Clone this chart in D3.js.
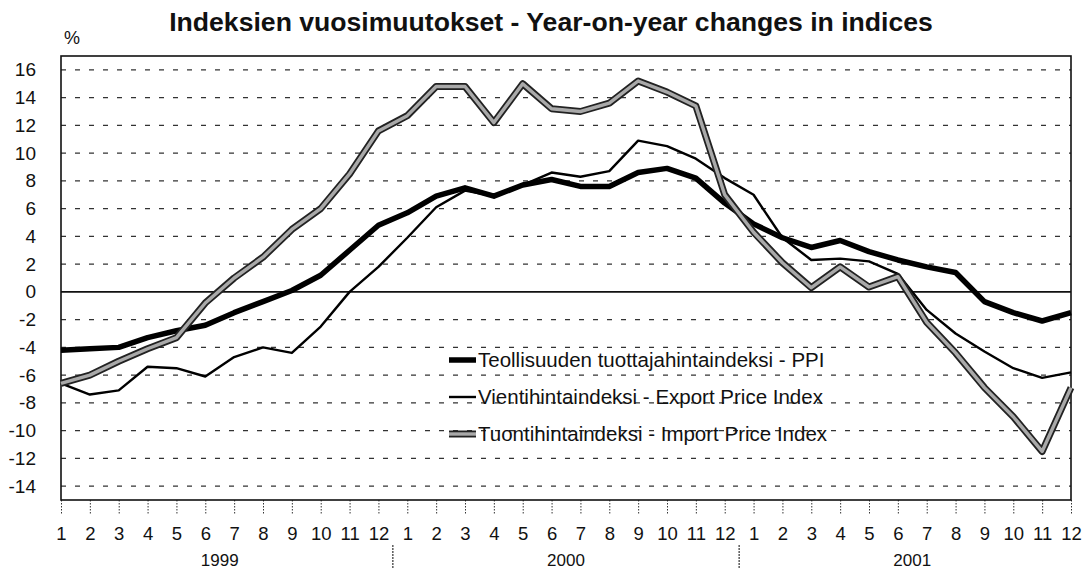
<!DOCTYPE html>
<html>
<head>
<meta charset="utf-8">
<script src="https://d3js.org/d3.v7.min.js"></script>
<title>Indeksien vuosimuutokset</title>
<style>
  body { margin: 0; background: #fff; }
  svg { display: block; font-family: "Liberation Sans", Arial, sans-serif; }
  .grid { stroke: #333; stroke-width: 1.1; stroke-dasharray: 5 9; }
  .tick line { stroke: #333; stroke-dasharray: 1.5 1.5; }
</style>
</head>
<body>
<div id="chart"></div>

<script>
// ---- data ----
var years = ["1999", "2000", "2001"];
var monthLabels = ["1","2","3","4","5","6","7","8","9","10","11","12"];
var yTicks = [-14, -12, -10, -8, -6, -4, -2, 0, 2, 4, 6, 8, 10, 12, 14, 16];

var seriesNames = [
  "Teollisuuden tuottajahintaindeksi - PPI",
  "Vientihintaindeksi - Export Price Index",
  "Tuontihintaindeksi - Import Price Index"
];

var ppi = [-4.2, -4.1, -4.0, -3.3, -2.8, -2.4, -1.5, -0.7, 0.1, 1.2, 3.0, 4.8,
           5.7, 6.9, 7.5, 6.9, 7.7, 8.1, 7.6, 7.6, 8.6, 8.9, 8.2, 6.4,
           4.9, 3.9, 3.2, 3.7, 2.9, 2.3, 1.8, 1.4, -0.7, -1.5, -2.1, -1.5];

var exportIdx = [-6.6, -7.4, -7.1, -5.4, -5.5, -6.1, -4.7, -4.0, -4.4, -2.5, 0.0, 1.8,
                 3.9, 6.1, 7.3, 6.9, 7.7, 8.6, 8.3, 8.7, 10.9, 10.5, 9.6, 8.2,
                 7.0, 3.9, 2.3, 2.4, 2.2, 1.3, -1.3, -3.0, -4.3, -5.5, -6.2, -5.8];

var importIdx = [-6.6, -6.0, -5.0, -4.1, -3.3, -0.8, 1.0, 2.5, 4.5, 6.0, 8.5, 11.6,
                 12.7, 14.8, 14.8, 12.2, 15.0, 13.2, 13.0, 13.6, 15.2, 14.4, 13.4, 7.0,
                 4.3, 2.1, 0.3, 1.8, 0.35, 1.1, -2.2, -4.4, -6.9, -9.0, -11.5, -6.9];

// ---- layout ----
var W = 1083, H = 569;
var plotL = 61, plotR = 1071, plotT = 56, plotB = 500;

var periods = [];
years.forEach(function(yr) {
  monthLabels.forEach(function(m) { periods.push(yr + "-" + m); });
});

var x = d3.scalePoint().domain(periods).range([plotL, plotR]);
var y = d3.scaleLinear().domain([-15, 17]).range([plotB, plotT]);

var svg = d3.select("#chart").append("svg")
  .attr("width", W)
  .attr("height", H);

// title
svg.append("text")
  .attr("x", 551)
  .attr("y", 31)
  .attr("text-anchor", "middle")
  .attr("font-size", 26.6)
  .attr("font-weight", "bold")
  .attr("fill", "#111")
  .text("Indeksien vuosimuutokset - Year-on-year changes in indices");

svg.append("text")
  .attr("x", 64)
  .attr("y", 44)
  .attr("font-size", 18)
  .attr("fill", "#111")
  .text("%");

// gridlines
svg.append("g").selectAll("line")
  .data(yTicks.filter(function(d) { return d !== 0; }))
  .enter().append("line")
  .attr("class", "grid")
  .attr("x1", plotL).attr("x2", plotR)
  .attr("y1", function(d) { return y(d); })
  .attr("y2", function(d) { return y(d); });

// zero line
svg.append("line")
  .attr("x1", plotL).attr("x2", plotR)
  .attr("y1", y(0)).attr("y2", y(0))
  .attr("stroke", "#111").attr("stroke-width", 1.6);

// y axis
var yAxis = d3.axisLeft(y)
  .tickValues(yTicks)
  .tickSize(0)
  .tickPadding(25)
  .tickFormat(function(d) { return String(d); });

svg.append("g")
  .attr("transform", "translate(" + plotL + ",0)")
  .call(yAxis)
  .call(function(g) { g.select(".domain").remove(); })
  .selectAll("text")
    .attr("font-size", 19)
    .attr("font-family", "Liberation Sans, Arial, sans-serif")
    .attr("fill", "#111");

// x axis
var xAxis = d3.axisBottom(x)
  .tickSize(15)
  .tickPadding(12)
  .tickFormat(function(d) { return d.split("-")[1]; });

svg.append("g")
  .attr("transform", "translate(0," + plotB + ")")
  .call(xAxis)
  .call(function(g) { g.select(".domain").remove(); })
  .selectAll("text")
    .attr("font-size", 18.5)
    .attr("font-family", "Liberation Sans, Arial, sans-serif")
    .attr("fill", "#111");

// year labels and separators
var step = x.step();
years.forEach(function(yr, i) {
  var first = x(yr + "-1"), last = x(yr + "-12");
  svg.append("text")
    .attr("x", (first + last) / 2)
    .attr("y", 566)
    .attr("text-anchor", "middle")
    .attr("font-size", 17)
    .attr("fill", "#111")
    .text(yr);
  if (i < years.length - 1) {
    svg.append("line")
      .attr("x1", last + step / 2).attr("x2", last + step / 2)
      .attr("y1", 545).attr("y2", 569)
      .attr("stroke", "#333").attr("stroke-width", 1.2)
      .attr("stroke-dasharray", "2 1");
  }
});

// frame
svg.append("rect")
  .attr("x", plotL).attr("y", plotT)
  .attr("width", plotR - plotL).attr("height", plotB - plotT)
  .attr("fill", "none")
  .attr("stroke", "#111")
  .attr("stroke-width", 1.6);

// lines
var line = d3.line()
  .x(function(d, i) { return x(periods[i]); })
  .y(function(d) { return y(d); });

var styles = [
  [{ stroke: "#000", width: 5.5 }],
  [{ stroke: "#000", width: 2.4 }],
  [{ stroke: "#222", width: 7 }, { stroke: "#a9a9a9", width: 3.4 }]
];
var allSeries = [ppi, exportIdx, importIdx];

allSeries.forEach(function(s, k) {
  styles[k].forEach(function(st) {
    svg.append("path")
      .datum(s)
      .attr("d", line)
      .attr("fill", "none")
      .attr("stroke", st.stroke)
      .attr("stroke-width", st.width)
      .attr("stroke-linejoin", "round");
  });
});

// legend
var legendY = [360, 397, 434];
seriesNames.forEach(function(name, k) {
  styles[k].forEach(function(st) {
    svg.append("line")
      .attr("x1", 449).attr("x2", 476)
      .attr("y1", legendY[k]).attr("y2", legendY[k])
      .attr("stroke", st.stroke)
      .attr("stroke-width", st.width);
  });
  svg.append("text")
    .attr("x", 478)
    .attr("y", legendY[k] + 7)
    .attr("font-size", 20.5)
    .attr("fill", "#111")
    .text(name);
});
</script>
</body>
</html>
